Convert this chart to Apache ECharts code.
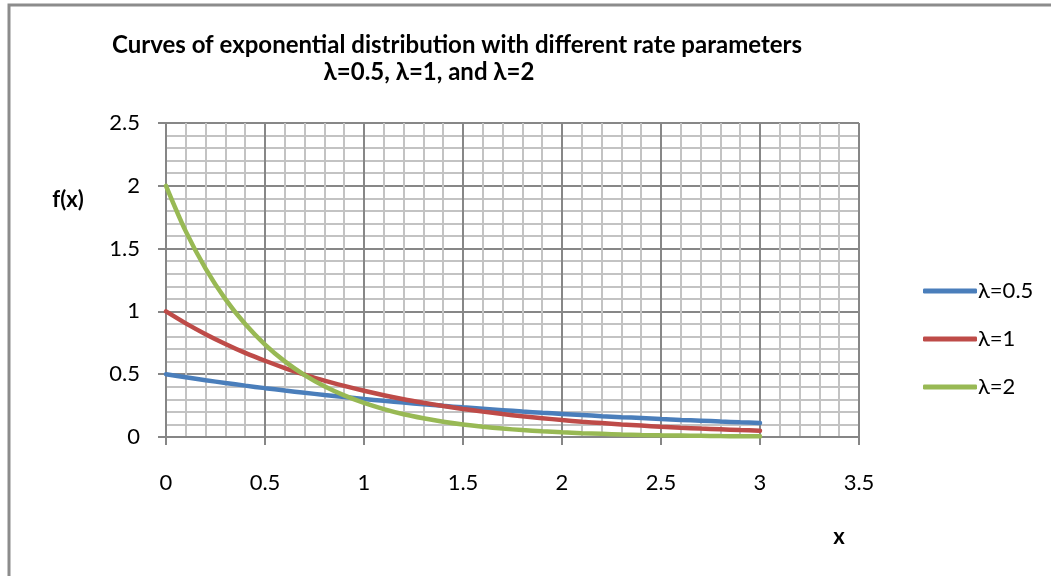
<!DOCTYPE html>
<html>
<head>
<meta charset="utf-8">
<script src="https://cdn.jsdelivr.net/npm/echarts@6/dist/echarts.min.js"></script>
<style>
html,body{margin:0;padding:0;background:#fff;}
#chart{width:1051px;height:576px;}
</style>
</head>
<body>
<div id="chart"></div>
<script>
const xValues = [0,0.1,0.2,0.3,0.4,0.5,0.6,0.7,0.8,0.9,1.0,1.1,1.2,1.3,1.4,1.5,1.6,1.7,1.8,1.9,2.0,2.1,2.2,2.3,2.4,2.5,2.6,2.7,2.8,2.9,3.0];
const rate05 = [0.500,0.476,0.452,0.430,0.409,0.389,0.370,0.352,0.335,0.319,0.303,0.288,0.274,0.261,0.248,0.236,0.225,0.214,0.203,0.193,0.184,0.175,0.166,0.158,0.151,0.143,0.136,0.130,0.123,0.117,0.112];
const rate1 = [1.000,0.905,0.819,0.741,0.670,0.607,0.549,0.497,0.449,0.407,0.368,0.333,0.301,0.273,0.247,0.223,0.202,0.183,0.165,0.150,0.135,0.122,0.111,0.100,0.091,0.082,0.074,0.067,0.061,0.055,0.050];
const rate2 = [2.000,1.637,1.341,1.098,0.899,0.736,0.602,0.493,0.404,0.331,0.271,0.222,0.181,0.149,0.122,0.100,0.082,0.067,0.055,0.045,0.037,0.030,0.025,0.020,0.016,0.013,0.011,0.009,0.007,0.006,0.005];
const seriesNames = ['λ=0.5','λ=1','λ=2'];
const titleLines = ['Curves of exponential distribution with different rate parameters','λ=0.5, λ=1, and λ=2'];
const yAxisTitle = 'f(x)';
const xAxisTitle = 'x';

const FONT = 'Lato';
const colors = ['#4a7ebb','#be4b48','#98b954'];
const pair = (ys) => xValues.map((x,i)=>[x, ys[i]]);

const chart = echarts.init(document.getElementById('chart'), null, {renderer:'canvas'});
const mkSeries = (name, ys, c) => ({
  name, type:'line', data: pair(ys), smooth:0.3, showSymbol:false, symbol:'none',
  lineStyle:{color:c, width:4.5, cap:'round'}, itemStyle:{color:c}, z:5
});
const boldText = (t, x, y, size) => ({type:'text', x, y, style:{text:t, fontFamily:FONT, fontWeight:'bold', fontSize:size, fill:'#000', align:'center', verticalAlign:'middle'}});
chart.setOption({
  animation:false,
  color: colors,
  textStyle:{fontFamily:FONT},
  grid:{left:166, right:192, top:123, bottom:139, containLabel:false},
  graphic:[
    {type:'rect', shape:{x:9, y:5, width:1200, height:800}, style:{fill:null, stroke:'#8c8c8c', lineWidth:3}, silent:true},
    boldText(titleLines[0], 457, 45, 24),
    boldText(titleLines[1], 429, 72, 24),
    boldText(yAxisTitle, 68, 200, 22),
    boldText(xAxisTitle, 839, 537, 22)
  ],
  legend:{
    orient:'vertical', left:918, top:275, itemGap:26, itemWidth:54, itemHeight:5,
    icon:'roundRect',
    data: seriesNames,
    textStyle:{fontSize:22, color:'#000', fontFamily:FONT, padding:[0,0,0,-4]}
  },
  xAxis:{
    type:'value', min:0, max:3.5, interval:0.5,
    axisLine:{show:true, onZero:false, lineStyle:{color:'#868686', width:2}},
    axisTick:{show:true, inside:false, length:8, lineStyle:{color:'#868686', width:2}},
    minorTick:{show:false, splitNumber:5},
    axisLabel:{color:'#000', fontSize:22, margin:35, fontFamily:FONT, formatter:(v)=>String(v)},
    splitLine:{show:true, lineStyle:{color:'#878787', width:2}},
    minorSplitLine:{show:true, lineStyle:{color:'#c3c3c3', width:2}}
  },
  yAxis:{
    type:'value', min:0, max:2.5, interval:0.5,
    axisLine:{show:true, onZero:false, lineStyle:{color:'#868686', width:2}},
    axisTick:{show:true, inside:false, length:8, lineStyle:{color:'#868686', width:2}},
    minorTick:{show:false, splitNumber:5},
    axisLabel:{color:'#000', fontSize:22, margin:26, fontFamily:FONT, formatter:(v)=>String(v)},
    splitLine:{show:true, lineStyle:{color:'#878787', width:2}},
    minorSplitLine:{show:true, lineStyle:{color:'#c3c3c3', width:2}}
  },
  series:[
    mkSeries(seriesNames[0], rate05, colors[0]),
    mkSeries(seriesNames[1], rate1, colors[1]),
    mkSeries(seriesNames[2], rate2, colors[2])
  ]
});
</script>
</body>
</html>
